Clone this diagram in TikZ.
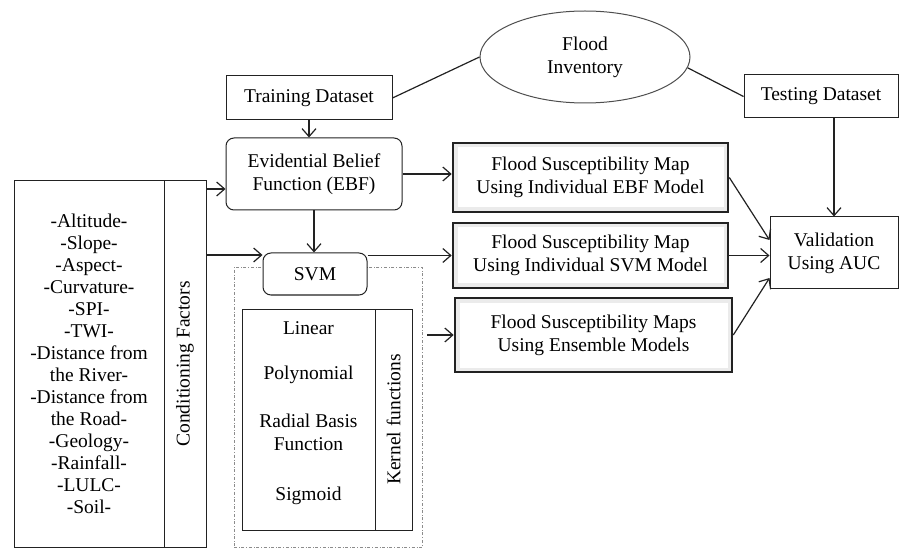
\documentclass[tikz,border=0pt]{standalone}
\usepackage{fontspec}
\setmainfont{Liberation Serif}
\usetikzlibrary{positioning, arrows.meta, shapes.geometric}
\definecolor{FMline}{HTML}{222222}
\definecolor{FMgrey}{HTML}{8C8C8C}

\begin{document}
\begin{tikzpicture}[
  x=1pt, y=-1pt,
  font=\fontsize{19.5}{23}\selectfont,
  box/.style={draw=FMline, line width=1pt, fill=white,
              align=center, inner sep=0pt},
  rbox/.style={box, rounded corners=8pt},
  mapbox/.style={box, line width=2.6pt,
                 path picture={\draw[black!8, line width=9pt]
                   (path picture bounding box.north west) rectangle
                   (path picture bounding box.south east);}},
  listfont/.style={font=\fontsize{19.5}{22}\selectfont},
  arr/.style={-{Straight Barb[length=8pt,width=14pt]}, line width=1.2pt, FMline},
]
\useasboundingbox (0,0) rectangle (900,548);

% SVM frame (behind)
\node[draw=FMgrey, dash dot, line width=0.8pt, minimum width=188pt,
      minimum height=280pt, inner sep=0pt] (frame) at (328,407) {};

% data
\node[box, ellipse, draw=FMline!80, minimum width=210pt, minimum height=92pt]
  (inv) at (585,57) {Flood\\Inventory};
\node[box, minimum width=166pt, minimum height=44pt] (train) at (309,98)
  {Training Dataset};
\node[box, minimum width=154pt, minimum height=43pt] (test) at (821,96.5)
  {Testing Dataset};

% models
\node[rbox, minimum width=176pt, minimum height=72pt] (ebf) at (314,174)
  {Evidential Belief\\Function (EBF)};
\node[rbox, minimum width=104pt, minimum height=42pt] (svm) at (315,274) {SVM};
\node[box, minimum width=133pt, minimum height=221pt,
      label={[align=center, yshift=6pt]center:Linear\\[22pt]Polynomial\\[25pt]Radial Basis\\Function\\[27pt]Sigmoid}]
  (kbox) at (308.5,419.5) {};
\node[box, minimum width=37pt, minimum height=221pt,
      label={[rotate=90]center:Kernel functions}]
  (kcol) at (393.5,419.5) {};

% conditioning factors
\node[box, listfont, minimum width=150pt, minimum height=367pt] (factors) at (89,364)
  {-Altitude-\\-Slope-\\-Aspect-\\-Curvature-\\-SPI-\\-TWI-\\-Distance from\\
   the River-\\-Distance from\\the Road-\\-Geology-\\-Rainfall-\\-LULC-\\-Soil-};
\node[box, minimum width=42pt, minimum height=367pt,
      label={[rotate=90]center:Conditioning Factors}]
  (cond) at (185,364) {};

% maps and validation
\node[mapbox, minimum width=275pt, minimum height=69pt] (mebf) at (590.5,177.5)
  {Flood Susceptibility Map\\Using Individual EBF Model};
\node[mapbox, minimum width=275pt, minimum height=65pt] (msvm) at (590.5,255.5)
  {Flood Susceptibility Map\\Using Individual SVM Model};
\node[mapbox, minimum width=277pt, minimum height=74pt] (mens) at (593.5,335)
  {Flood Susceptibility Maps\\Using Ensemble Models};
\node[box, minimum width=128pt, minimum height=72pt] (val) at (834,253)
  {Validation\\Using AUC};

\coordinate (c1) at ([yshift=-9pt]cond.north east);
\coordinate (c2) at ([yshift=-75pt]cond.north east);
\coordinate (c3) at (frame.east |- mens.west);

\draw[line width=1.2pt, FMline] (train.east) -- (inv.west);
\draw[line width=1.2pt, FMline] (inv.-6) -- (test.west);
\draw[arr] (train.south) -- (train.south |- ebf.north);
\draw[arr] (val.north |- test.south) -- (val.north);
\draw[arr] (c1) -- (c1 -| ebf.west);
\draw[arr] (c2) -- (c2 -| svm.west);
\draw[arr] (ebf.south) -- (ebf.south |- svm.north);
\draw[arr] (ebf.east) -- (ebf.east -| mebf.west);
\draw[arr] (svm.east |- msvm.west) -- (msvm.west);
\draw[arr] ([xshift=5pt]c3) -- (mens.west);
\draw[arr] (mebf.east) -- ([yshift=13pt]val.west);
\draw[arr] (msvm.east) -- (msvm.east -| val.west);
\draw[arr] (mens.east) -- ([yshift=-25pt]val.west);
\end{tikzpicture}
\end{document}
